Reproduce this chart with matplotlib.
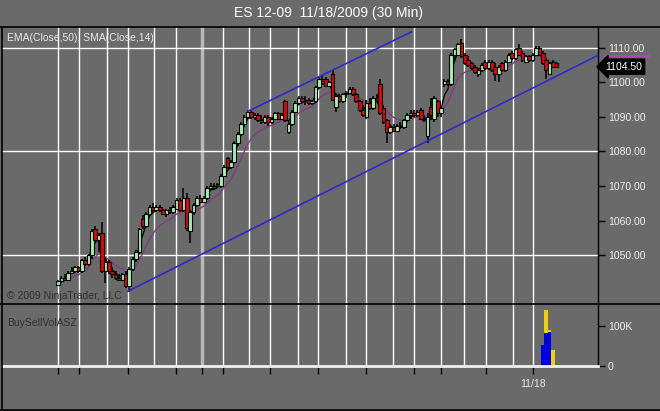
import pandas as pd
import matplotlib
matplotlib.use('Agg')
import matplotlib.pyplot as plt
import matplotlib.transforms as mtrans
from matplotlib.lines import Line2D

plt.rcParams['font.family'] = ['Liberation Sans', 'DejaVu Sans']

# Datos OHLC de barras de 30 minutos (ES 12-09)
opens = [1041.5, 1042.5, 1043.5, 1043.0, 1045.0, 1045.5, 1046.5, 1045.5, 1048.5, 1047.5,
         1050.0, 1057.5, 1054.5, 1056.5, 1045.5, 1048.0, 1045.5, 1044.5, 1043.5, 1043.0,
         1044.5, 1041.0, 1046.0, 1049.0, 1051.0, 1060.5, 1058.5, 1062.0, 1064.0, 1063.0,
         1064.0, 1063.0, 1062.0, 1063.0, 1062.5, 1063.5, 1066.0, 1063.0, 1066.5, 1057.0,
         1062.5, 1064.5, 1066.5, 1065.5, 1066.5, 1069.5, 1070.0, 1070.5, 1070.0, 1073.0,
         1078.0, 1075.5, 1077.0, 1082.5, 1085.0, 1088.0, 1090.0, 1091.5, 1090.0, 1090.5,
         1089.0, 1088.5, 1090.0, 1088.5, 1089.5, 1091.0, 1089.5, 1094.5, 1085.5, 1088.0,
         1091.5, 1094.0, 1095.5, 1094.5, 1095.0, 1094.0, 1094.5, 1098.5, 1101.0, 1101.0,
         1099.0, 1102.5, 1093.0, 1096.0, 1094.5, 1096.5, 1097.0, 1098.0, 1096.5, 1094.5,
         1092.0, 1090.0, 1094.0, 1092.5, 1095.5, 1099.5, 1092.5, 1089.0, 1085.5, 1087.0,
         1086.0, 1087.5, 1087.0, 1089.0, 1090.5, 1091.0, 1090.5, 1092.0, 1089.5, 1084.5,
         1093.0, 1089.5, 1094.5, 1091.0, 1099.5, 1100.5, 1099.5, 1108.0, 1108.0, 1111.5,
         1108.0, 1106.5, 1105.5, 1104.5, 1102.5, 1103.5, 1106.0, 1104.0, 1106.0, 1104.5,
         1102.5, 1105.5, 1103.5, 1106.0, 1108.5, 1107.0, 1110.0, 1108.5, 1106.0, 1107.5,
         1106.5, 1108.0, 1110.0, 1108.5, 1106.5, 1102.5, 1106.0, 1105.5]
highs = [1043.0, 1044.0, 1044.5, 1045.5, 1046.5, 1047.0, 1047.0, 1049.0, 1049.5, 1050.5,
         1057.5, 1058.5, 1056.5, 1059.5, 1049.0, 1048.5, 1046.5, 1045.5, 1044.5, 1045.0,
         1045.5, 1046.5, 1049.5, 1051.5, 1058.0, 1061.5, 1062.5, 1064.5, 1065.0, 1064.5,
         1064.5, 1063.5, 1063.5, 1064.0, 1064.5, 1066.5, 1066.5, 1069.5, 1068.0, 1063.0,
         1065.0, 1067.0, 1067.5, 1067.0, 1070.0, 1071.0, 1071.0, 1071.0, 1073.5, 1076.0,
         1078.5, 1077.5, 1083.0, 1085.5, 1088.5, 1090.5, 1092.0, 1092.0, 1091.0, 1091.0,
         1090.5, 1090.5, 1090.5, 1090.0, 1091.5, 1091.5, 1091.0, 1095.0, 1088.5, 1092.0,
         1094.5, 1096.0, 1096.0, 1096.0, 1095.5, 1095.0, 1099.0, 1101.5, 1102.0, 1101.5,
         1100.5, 1103.5, 1096.5, 1096.5, 1097.0, 1097.5, 1098.5, 1098.5, 1097.0, 1095.0,
         1093.5, 1095.0, 1095.5, 1096.0, 1096.5, 1101.0, 1093.5, 1089.5, 1088.0, 1088.0,
         1088.0, 1088.5, 1089.5, 1091.0, 1092.0, 1092.0, 1092.0, 1092.5, 1090.5, 1091.0,
         1095.5, 1096.0, 1095.0, 1093.0, 1101.0, 1101.0, 1108.5, 1110.0, 1111.5, 1112.5,
         1108.5, 1107.5, 1106.0, 1105.0, 1104.0, 1105.5, 1106.5, 1106.5, 1106.5, 1105.5,
         1105.0, 1106.0, 1106.5, 1108.5, 1109.0, 1110.0, 1111.0, 1109.0, 1108.0, 1108.0,
         1108.5, 1110.5, 1110.5, 1109.0, 1107.0, 1106.0, 1106.5, 1106.0]
lows = [1041.0, 1042.0, 1042.5, 1042.5, 1044.5, 1045.0, 1045.0, 1045.0, 1047.0, 1047.0,
        1049.0, 1053.5, 1051.0, 1045.0, 1042.0, 1044.5, 1043.5, 1043.0, 1042.5, 1042.5,
        1040.5, 1039.5, 1045.5, 1048.0, 1050.5, 1057.5, 1058.0, 1061.5, 1062.5, 1062.5,
        1062.5, 1061.5, 1061.0, 1062.0, 1062.0, 1063.0, 1062.5, 1062.5, 1057.0, 1053.5,
        1061.5, 1064.0, 1065.0, 1065.0, 1066.0, 1069.0, 1069.0, 1069.5, 1069.5, 1072.5,
        1075.0, 1075.0, 1076.5, 1081.5, 1084.5, 1087.5, 1089.5, 1089.5, 1089.0, 1088.5,
        1088.0, 1088.0, 1087.5, 1088.0, 1089.0, 1089.0, 1089.0, 1088.5, 1085.0, 1087.5,
        1091.0, 1093.5, 1094.0, 1093.5, 1093.5, 1093.5, 1094.0, 1098.0, 1100.0, 1098.5,
        1098.5, 1094.5, 1091.5, 1094.0, 1094.0, 1095.5, 1096.5, 1096.0, 1094.0, 1091.5,
        1090.0, 1089.5, 1092.0, 1092.0, 1094.5, 1090.5, 1088.0, 1082.5, 1085.0, 1085.5,
        1085.5, 1086.5, 1086.5, 1088.5, 1089.5, 1090.0, 1090.0, 1089.0, 1088.5, 1082.5,
        1089.0, 1088.5, 1090.0, 1090.0, 1098.5, 1099.0, 1099.0, 1106.5, 1107.5, 1107.0,
        1105.0, 1104.5, 1103.5, 1102.5, 1101.5, 1103.0, 1103.5, 1103.5, 1103.0, 1100.5,
        1100.0, 1103.0, 1103.0, 1105.5, 1106.5, 1106.5, 1107.5, 1106.0, 1105.5, 1106.0,
        1106.0, 1107.5, 1107.5, 1105.0, 1101.0, 1102.0, 1104.0, 1104.0]
closes = [1042.5, 1043.5, 1043.0, 1045.0, 1045.5, 1046.5, 1045.5, 1048.5, 1047.5, 1050.0,
          1057.0, 1054.5, 1056.0, 1045.5, 1048.0, 1045.5, 1044.5, 1043.5, 1043.0, 1044.5,
          1041.0, 1046.0, 1049.0, 1051.0, 1057.5, 1058.5, 1062.0, 1064.0, 1063.0, 1064.0,
          1063.0, 1062.0, 1063.0, 1062.5, 1064.0, 1066.0, 1063.0, 1066.5, 1058.0, 1062.5,
          1064.5, 1066.5, 1065.5, 1066.5, 1069.5, 1070.0, 1069.5, 1070.0, 1073.0, 1075.5,
          1075.5, 1077.0, 1082.5, 1085.0, 1088.0, 1090.0, 1091.5, 1090.0, 1090.5, 1089.0,
          1088.5, 1090.0, 1088.5, 1089.5, 1091.0, 1089.5, 1090.5, 1089.0, 1088.0, 1091.5,
          1094.0, 1095.5, 1094.5, 1095.0, 1094.0, 1094.5, 1098.5, 1101.0, 1100.5, 1099.0,
          1100.0, 1095.0, 1096.0, 1094.5, 1096.5, 1097.0, 1098.0, 1096.5, 1094.5, 1092.0,
          1090.5, 1094.0, 1092.5, 1095.5, 1095.0, 1091.0, 1088.5, 1085.5, 1087.0, 1086.0,
          1087.5, 1087.0, 1089.0, 1090.5, 1091.0, 1090.5, 1091.5, 1089.5, 1089.0, 1090.0,
          1090.5, 1095.5, 1091.0, 1092.5, 1100.5, 1099.5, 1108.0, 1109.5, 1111.0, 1107.5,
          1105.5, 1105.0, 1104.0, 1103.0, 1103.5, 1105.0, 1104.0, 1106.0, 1103.5, 1102.5,
          1104.5, 1103.5, 1106.0, 1108.0, 1107.0, 1109.5, 1108.0, 1106.5, 1107.5, 1106.5,
          1108.0, 1110.0, 1108.0, 1105.5, 1103.5, 1105.5, 1104.5, 1104.5]

# Volumen compra/venta (solo las ultimas barras tienen datos)
vol_bars = [143, 144, 145, 146]
buy_vol = [52000, 82000, 85000, 0]
sell_vol = [0, 58000, 5000, 40000]

# Lineas de canal dibujadas (barra, precio)
lower_x = [20.6, 159.3]
lower_y = [1039.6, 1107.8]
upper_x = [56.0, 104.3]
upper_y = [1091.6, 1114.6]

price_ticks = [1050, 1060, 1070, 1080, 1090, 1100, 1110]
grid_prices = [1050, 1080, 1110]
grid_bars = [0, 6.2, 14.5, 20.6, 28.3, 34.8, 42.5, 48.7, 56.3, 62.5, 70.8, 76.7,
             85, 90.9, 98.8, 105, 113, 119.8, 126.3, 134.2, 140.1]
week_bar = 42.5
tick_bars = [0, 6.2, 20.6, 34.8, 42.5, 48.7, 62.5, 76.7, 90.9, 105, 113, 126.3, 140.1]
tick_labels = ['', '', '', '', '', '', '', '', '', '', '', '', '11/18']

W, H = 660, 411
BG = '#6a6a6a'

def fx(px):
    return px / W

def fy(py):
    return 1 - py / H

fig = plt.figure(figsize=(6.6, 4.11), dpi=100, facecolor=BG)
ax = fig.add_axes([fx(2), fy(304), fx(596), 277 / H], facecolor=BG)
ax2 = fig.add_axes([fx(2), fy(366), fx(596), 62 / H], facecolor=BG, sharex=ax)

ax.set_xlim(-16.52, 159.29)
ax.set_ylim(1035.92, 1115.98)
ax2.set_ylim(0, 155000)

for a in (ax, ax2):
    for s in ('left', 'top', 'bottom'):
        a.spines[s].set_visible(False)
    a.spines['right'].set_color('black')
    a.spines['right'].set_linewidth(1)
    for g in grid_bars:
        if g == week_bar:
            a.axvline(g, color='#b8b8b8', lw=2.5, zorder=0)
        else:
            a.axvline(g, color='white', lw=1, zorder=0)

for p in grid_prices:
    ax.axhline(p, color='white', lw=1, zorder=0)

# velas
idx = list(range(len(closes)))
ax.vlines(idx, lows, highs, color='black', lw=1.1, zorder=3)
body_bottom = [min(o, c) for o, c in zip(opens, closes)]
body_height = [max(abs(c - o), 0.25) for o, c in zip(opens, closes)]
body_color = ['#9cf5ad' if c >= o else '#ee0000' for o, c in zip(opens, closes)]
ax.bar(idx, body_height, bottom=body_bottom, width=1.08, color=body_color,
       edgecolor='black', linewidth=0.8, zorder=4)

# medias moviles
s = pd.Series(closes)
fast = s.ewm(span=3, adjust=False).mean()
slow = s.ewm(span=10, adjust=False).mean()
ax.plot(idx[4:], slow[4:], color='#7e3d7e', lw=1, zorder=2)
ax.plot(idx[6:], fast[6:], color='black', lw=0.9, zorder=2)

# canal
ax.plot(lower_x, lower_y, color='#2a2ad0', lw=1.2, zorder=5)
ax.plot(upper_x, upper_y, color='#2a2ad0', lw=1.2, zorder=5)

ax.yaxis.tick_right()
ax.set_yticks(price_ticks)
ax.set_yticklabels([f'{p:.2f}' for p in price_ticks])
ax.tick_params(axis='y', direction='out', length=5, color='black', width=1,
               labelcolor='#f0f0f0', labelsize=7.5, pad=2)
ax.tick_params(axis='x', bottom=False, labelbottom=False)

# marcadores de precio en el eje
tr = mtrans.blended_transform_factory(ax.transAxes, ax.transData)
slow_last = slow.iloc[-1]
ax.plot([1.012, 1.085], [slow_last + 1.9, slow_last + 1.9], transform=tr,
        color='#c040c0', lw=1.2, clip_on=False, zorder=6)
ax.text(1.012, closes[-1], f'{closes[-1]:.2f}', transform=tr, ha='left', va='center',
        fontsize=7.5, color='white', clip_on=False, zorder=7,
        bbox=dict(boxstyle='larrow,pad=0.25', fc='black', ec='black', lw=1))

# panel de volumen
ax2.bar(vol_bars, buy_vol, width=1.0, color='#0000e0', zorder=3)
ax2.bar(vol_bars, sell_vol, bottom=buy_vol, width=1.0, color='#f0d000', zorder=3)
ax2.axhline(0, color='#f0f0f0', lw=2, zorder=4, clip_on=False)
ax2.yaxis.tick_right()
ax2.set_yticks([0, 100000])
ax2.set_yticklabels(['0', '100K'])
ax2.tick_params(axis='y', direction='out', length=5, color='black', width=1,
                labelcolor='#f0f0f0', labelsize=7.5, pad=2)
ax2.set_xticks(tick_bars)
ax2.set_xticklabels(tick_labels)
ax2.tick_params(axis='x', direction='out', length=6, color='black', width=1,
                labelcolor='#e8e8e8', labelsize=7.5, pad=3)

# textos
fig.text(fx(328), fy(13), 'ES 12-09  11/18/2009 (30 Min)', ha='center', va='center',
         color='white', fontsize=10)
fig.text(fx(7), fy(38), 'EMA(Close,50), SMA(Close,14)', ha='left', va='center',
         color='#e8e8e8', fontsize=7.5)
fig.text(fx(7), fy(296), '\u00a9 2009 NinjaTrader, LLC', ha='left', va='center',
         color='#303030', fontsize=7.5)
fig.text(fx(7), fy(323), 'BuySellVolASZ', ha='left', va='center',
         color='#303030', fontsize=7.5)

# marcos
for (x0, y0, x1, y1) in [(0, 27, 660, 27), (0, 304, 660, 304), (0, 410, 660, 410),
                         (1.5, 27, 1.5, 410)]:
    fig.add_artist(Line2D([fx(x0), fx(x1)], [fy(y0), fy(y1)], color='black', lw=1.2,
                          transform=fig.transFigure))

fig.savefig('out.png', dpi=100, facecolor=BG)
